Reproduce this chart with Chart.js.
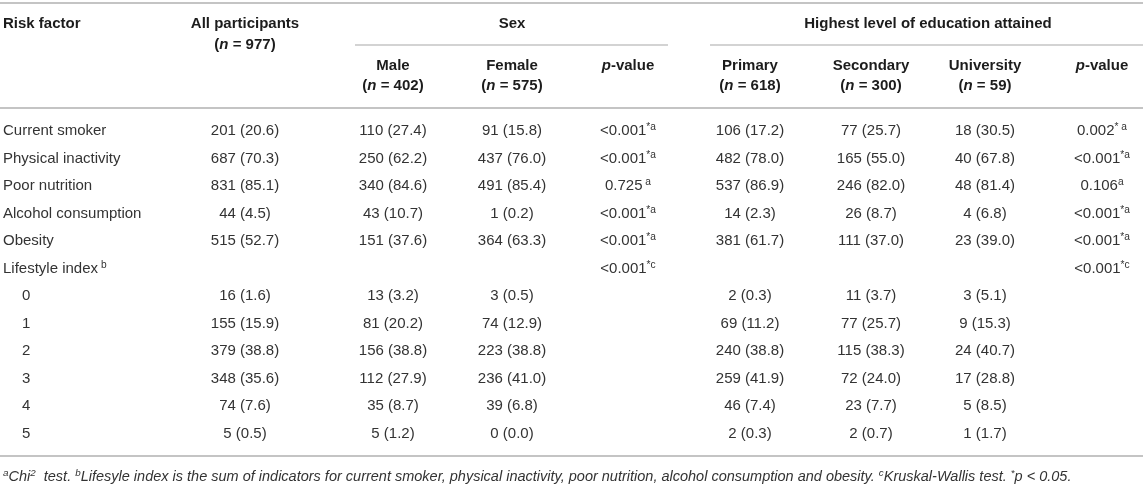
<!DOCTYPE html>
<html>
<head>
<meta charset="utf-8">
<script src="https://cdn.jsdelivr.net/npm/chart.js@4.4.1/dist/chart.umd.min.js"></script>
<style>
  html, body { margin: 0; padding: 0; background: #ffffff; }
  canvas { display: block; }
</style>
</head>
<body>
<canvas id="c" width="1143" height="485"></canvas>
<script>
// ---------------- DATA ----------------
const riskFactors = ['Current smoker', 'Physical inactivity', 'Poor nutrition', 'Alcohol consumption', 'Obesity', 'Lifestyle index[s| b]'];
const lifestyleLevels = ['0', '1', '2', '3', '4', '5'];

const allN    = [201, 687, 831, 44, 515, null, 16, 155, 379, 348, 74, 5];
const allPct  = [20.6, 70.3, 85.1, 4.5, 52.7, null, 1.6, 15.9, 38.8, 35.6, 7.6, 0.5];
const maleN   = [110, 250, 340, 43, 151, null, 13, 81, 156, 112, 35, 5];
const malePct = [27.4, 62.2, 84.6, 10.7, 37.6, null, 3.2, 20.2, 38.8, 27.9, 8.7, 1.2];
const femaleN   = [91, 437, 491, 1, 364, null, 3, 74, 223, 236, 39, 0];
const femalePct = [15.8, 76.0, 85.4, 0.2, 63.3, null, 0.5, 12.9, 38.8, 41.0, 6.8, 0.0];
const pSex = ['<0.001[s|*a]', '<0.001[s|*a]', '0.725[s| a]', '<0.001[s|*a]', '<0.001[s|*a]', '<0.001[s|*c]', '', '', '', '', '', ''];
const primaryN   = [106, 482, 537, 14, 381, null, 2, 69, 240, 259, 46, 2];
const primaryPct = [17.2, 78.0, 86.9, 2.3, 61.7, null, 0.3, 11.2, 38.8, 41.9, 7.4, 0.3];
const secondaryN   = [77, 165, 246, 26, 111, null, 11, 77, 115, 72, 23, 2];
const secondaryPct = [25.7, 55.0, 82.0, 8.7, 37.0, null, 3.7, 25.7, 38.3, 24.0, 7.7, 0.7];
const universityN   = [18, 40, 48, 4, 23, null, 3, 9, 24, 17, 5, 1];
const universityPct = [30.5, 67.8, 81.4, 6.8, 39.0, null, 5.1, 15.3, 40.7, 28.8, 8.5, 1.7];
const pEdu = ['0.002[s|* a]', '<0.001[s|*a]', '0.106[s|a]', '<0.001[s|*a]', '<0.001[s|*a]', '<0.001[s|*c]', '', '', '', '', '', ''];

const groupHeaders = ['All participants', 'Sex', 'Highest level of education attained'];
const colHeaders = ['Male', 'Female', '[i|p]-value', 'Primary', 'Secondary', 'University', '[i|p]-value'];
const groupSizes = { all: 977, male: 402, female: 575, primary: 618, secondary: 300, university: 59 };
const footnote = '[s|a]Chi[s|2]  test. [s|b]Lifesyle index is the sum of indicators for current smoker, physical inactivity, poor nutrition, alcohol consumption and obesity. [s|c]Kruskal-Wallis test. [s|*]p < 0.05.';

// ---------------- LAYOUT (positions / styles only) ----------------
const W = 1143, H = 485;
const ROW0 = 130, ROW_STEP = 27.5;            // pixel centre of first body row, row pitch
const rowAt = px => (px - ROW0) / ROW_STEP;    // row units used by the y scale
const COL_X = { risk: 3, sub: 22, all: 245, male: 393, female: 512, pSex: 628, primary: 750, secondary: 871, university: 985, pEdu: 1102, sex: 512, edu: 928 };
const HEAD_Y1 = rowAt(23), HEAD_Y2 = rowAt(44), SUB_Y1 = rowAt(65), SUB_Y2 = rowAt(85), FOOT_Y = rowAt(476);
const RULES = [
  { y: rowAt(3),   x0: 0,   x1: W,   w: 2 },
  { y: rowAt(45),  x0: 355, x1: 668, w: 1.6 },
  { y: rowAt(45),  x0: 710, x1: W,   w: 1.6 },
  { y: rowAt(108), x0: 0,   x1: W,   w: 2 },
  { y: rowAt(456), x0: 0,   x1: W,   w: 2 }
];
const FONT = '"Liberation Sans", Arial, Helvetica, sans-serif';
const BODY_COLOR = '#333333', HEAD_COLOR = '#1c1c1c', RULE_COLOR = '#c4c4c4';
const BODY_SIZE = 15, FOOT_SIZE = 14.5;

// ---------------- BUILD ----------------
const rowLabels = riskFactors.concat(lifestyleLevels);
const cell = (n, p) => (n === null ? '' : n + ' (' + p.toFixed(1) + ')');
const colTexts = (ns, ps) => ns.map((n, i) => cell(n, ps[i]));

function bodyDataset(x, texts, align) {
  return {
    data: texts.map((t, i) => ({ x: x, y: i })),
    texts: texts, align: align || 'center', size: BODY_SIZE, bold: false, italic: false, color: BODY_COLOR,
    pointRadius: 0, pointHoverRadius: 0
  };
}

const riskDs = {
  data: rowLabels.map((t, i) => ({ x: i > riskFactors.length - 1 ? COL_X.sub : COL_X.risk, y: i })),
  texts: rowLabels, align: 'left', size: BODY_SIZE, bold: false, italic: false, color: BODY_COLOR,
  pointRadius: 0, pointHoverRadius: 0
};

const headerCells = [
  { x: COL_X.risk, y: HEAD_Y1, t: 'Risk factor', a: 'left' },
  { x: COL_X.all, y: HEAD_Y1, t: groupHeaders[0] },
  { x: COL_X.all, y: HEAD_Y2, t: '([i|n] = ' + groupSizes.all + ')' },
  { x: COL_X.sex, y: HEAD_Y1, t: groupHeaders[1] },
  { x: COL_X.edu, y: HEAD_Y1, t: groupHeaders[2] },
  { x: COL_X.male, y: SUB_Y1, t: colHeaders[0] },
  { x: COL_X.male, y: SUB_Y2, t: '([i|n] = ' + groupSizes.male + ')' },
  { x: COL_X.female, y: SUB_Y1, t: colHeaders[1] },
  { x: COL_X.female, y: SUB_Y2, t: '([i|n] = ' + groupSizes.female + ')' },
  { x: COL_X.pSex, y: SUB_Y1, t: colHeaders[2] },
  { x: COL_X.primary, y: SUB_Y1, t: colHeaders[3] },
  { x: COL_X.primary, y: SUB_Y2, t: '([i|n] = ' + groupSizes.primary + ')' },
  { x: COL_X.secondary, y: SUB_Y1, t: colHeaders[4] },
  { x: COL_X.secondary, y: SUB_Y2, t: '([i|n] = ' + groupSizes.secondary + ')' },
  { x: COL_X.university, y: SUB_Y1, t: colHeaders[5] },
  { x: COL_X.university, y: SUB_Y2, t: '([i|n] = ' + groupSizes.university + ')' },
  { x: COL_X.pEdu, y: SUB_Y1, t: colHeaders[6] }
];
const headerDs = {
  data: headerCells.map(c => ({ x: c.x, y: c.y })),
  texts: headerCells.map(c => c.t), aligns: headerCells.map(c => c.a || 'center'),
  size: BODY_SIZE, bold: true, italic: false, color: HEAD_COLOR, pointRadius: 0, pointHoverRadius: 0
};
const footDs = {
  data: [{ x: COL_X.risk, y: FOOT_Y }], texts: [footnote], align: 'left',
  size: FOOT_SIZE, bold: false, italic: true, color: BODY_COLOR, pointRadius: 0, pointHoverRadius: 0
};

const datasets = [
  headerDs, riskDs,
  bodyDataset(COL_X.all, colTexts(allN, allPct)),
  bodyDataset(COL_X.male, colTexts(maleN, malePct)),
  bodyDataset(COL_X.female, colTexts(femaleN, femalePct)),
  bodyDataset(COL_X.pSex, pSex),
  bodyDataset(COL_X.primary, colTexts(primaryN, primaryPct)),
  bodyDataset(COL_X.secondary, colTexts(secondaryN, secondaryPct)),
  bodyDataset(COL_X.university, colTexts(universityN, universityPct)),
  bodyDataset(COL_X.pEdu, pEdu),
  footDs
];

// ---------------- RICH TEXT ----------------
function parseRich(s) {
  const out = [], re = /\[(i|s)\|([^\]]*)\]/g;
  let last = 0, m;
  while ((m = re.exec(s))) {
    if (m.index > last) out.push({ t: s.slice(last, m.index) });
    out.push({ t: m[2], i: m[1] === 'i', s: m[1] === 's' });
    last = re.lastIndex;
  }
  if (last < s.length) out.push({ t: s.slice(last) });
  return out;
}
function fontStr(size, bold, italic) {
  return (italic ? 'italic ' : '') + (bold ? 'bold ' : '') + size + 'px ' + FONT;
}
function drawRich(ctx, s, x, y, align, size, bold, italic, color) {
  const segs = parseRich(s);
  let total = 0;
  segs.forEach(g => {
    g.size = g.s ? size * 0.68 : size;
    g.font = fontStr(g.size, bold && !g.s, italic || g.i);
    ctx.font = g.font;
    g.w = ctx.measureText(g.t).width;
    total += g.w;
  });
  let cx = align === 'left' ? x : align === 'right' ? x - total : x - total / 2;
  const base = y + size * 0.36;
  ctx.fillStyle = color;
  ctx.textAlign = 'left';
  ctx.textBaseline = 'alphabetic';
  segs.forEach(g => {
    ctx.font = g.font;
    ctx.fillText(g.t, cx, g.s ? base - size * 0.36 : base);
    cx += g.w;
  });
}

const tablePlugin = {
  id: 'tableText',
  afterDatasetsDraw(chart) {
    const ctx = chart.ctx, xs = chart.scales.x, ys = chart.scales.y;
    ctx.save();
    ctx.strokeStyle = RULE_COLOR;
    RULES.forEach(r => {
      ctx.lineWidth = r.w;
      const y = ys.getPixelForValue(r.y);
      ctx.beginPath();
      ctx.moveTo(xs.getPixelForValue(r.x0), y);
      ctx.lineTo(xs.getPixelForValue(r.x1), y);
      ctx.stroke();
    });
    chart.data.datasets.forEach((ds, di) => {
      const meta = chart.getDatasetMeta(di);
      meta.data.forEach((el, i) => {
        const t = ds.texts[i];
        if (!t) return;
        const align = ds.aligns ? ds.aligns[i] : ds.align;
        drawRich(ctx, t, el.x, el.y, align, ds.size, ds.bold, ds.italic, ds.color);
      });
    });
    ctx.restore();
  }
};

new Chart(document.getElementById('c'), {
  type: 'scatter',
  data: { datasets: datasets },
  options: {
    responsive: false,
    animation: false,
    events: [],
    layout: { padding: 0 },
    plugins: { legend: { display: false }, tooltip: { enabled: false } },
    scales: {
      x: { type: 'linear', min: 0, max: W, display: false },
      y: { type: 'linear', min: rowAt(0), max: rowAt(H), reverse: true, display: false }
    }
  },
  plugins: [tablePlugin]
});
</script>
</body>
</html>
